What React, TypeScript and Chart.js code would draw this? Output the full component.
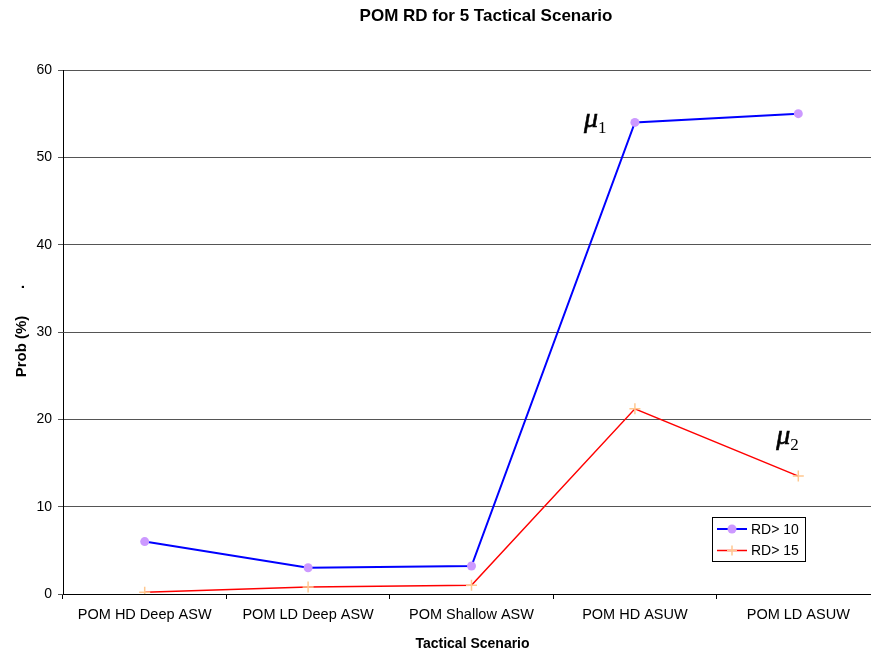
import { useEffect, useRef } from 'react';
import { Chart, registerables } from 'chart.js';

Chart.register(...registerables);

const categories = ['POM HD Deep ASW', 'POM LD Deep ASW', 'POM Shallow ASW', 'POM HD ASUW', 'POM LD ASUW'];
const rd10 = [6, 3, 3.2, 54, 55];
const rd15 = [0.2, 0.8, 1.0, 21.2, 13.5];
const seriesNames = ['RD> 10', 'RD> 15'];
const yMin = 0;
const yMax = 60;
const yStep = 10;
const chartTitle = 'POM RD for 5 Tactical Scenario';
const xTitle = 'Tactical Scenario';
const yTitle = 'Prob (%)';

const SANS = '"Liberation Sans", Arial, sans-serif';
const SERIF = '"Liberation Serif", "Times New Roman", serif';
const BLUE = '#0000FF';
const RED = '#FF0000';
const PURPLE = '#CC99FF';
const ORANGE = '#FFC890';

function drawMu(ctx: CanvasRenderingContext2D, x: number, y: number, sub: string) {
  ctx.save();
  ctx.fillStyle = '#000';
  ctx.strokeStyle = '#000';
  ctx.lineWidth = 0.6;
  ctx.textAlign = 'left';
  ctx.textBaseline = 'alphabetic';
  ctx.font = `italic 28px ${SERIF}`;
  ctx.fillText('\u03bc', x, y);
  ctx.strokeText('\u03bc', x, y);
  const w = ctx.measureText('\u03bc').width;
  ctx.font = `17px ${SERIF}`;
  ctx.fillText(sub, x + w, y + 6);
  ctx.restore();
}

const decorPlugin = {
  id: 'decor',
  afterDraw(chart: any) {
    const ctx: CanvasRenderingContext2D = chart.ctx;
    const area = chart.chartArea;
    const xs = chart.scales.x;
    const ys = chart.scales.y;
    ctx.save();
    ctx.fillStyle = '#000';
    // title
    ctx.font = `bold 17px ${SANS}`;
    ctx.textAlign = 'center';
    ctx.textBaseline = 'alphabetic';
    ctx.fillText(chartTitle, 486, 21);
    // x title
    ctx.font = `bold 14px ${SANS}`;
    ctx.fillText(xTitle, (area.left + area.right) / 2 + 1, 648);
    // y title
    ctx.font = `bold 15px ${SANS}`;
    ctx.save();
    ctx.translate(26, 346.5);
    ctx.rotate(-Math.PI / 2);
    ctx.fillText(yTitle, 0, 0);
    ctx.restore();
    ctx.save();
    ctx.translate(24, 287);
    ctx.rotate(-Math.PI / 2);
    ctx.fillText('.', 0, 0);
    ctx.restore();

    // mu annotations anchored to data points
    const p1x = xs.getPixelForValue(3);
    const p1y = ys.getPixelForValue(rd10[3]);
    drawMu(ctx, p1x - 51, p1y + 5, '1');
    const p2x = xs.getPixelForValue(4);
    const p2y = ys.getPixelForValue(rd15[4]);
    drawMu(ctx, p2x - 22, p2y - 32, '2');

    // legend
    const bx = 712.5, by = 517.5, bw = 93, bh = 44;
    ctx.fillStyle = '#fff';
    ctx.fillRect(bx, by, bw, bh);
    ctx.strokeStyle = '#000';
    ctx.lineWidth = 1;
    ctx.strokeRect(bx, by, bw, bh);
    const rows = [
      { y: 529, color: BLUE, name: seriesNames[0], marker: 'circle' },
      { y: 550.5, color: RED, name: seriesNames[1], marker: 'cross' },
    ];
    rows.forEach((r) => {
      ctx.strokeStyle = r.color;
      ctx.lineWidth = r.marker === 'circle' ? 2 : 1.5;
      ctx.beginPath();
      ctx.moveTo(717, r.y);
      ctx.lineTo(747, r.y);
      ctx.stroke();
      if (r.marker === 'circle') {
        ctx.fillStyle = PURPLE;
        ctx.beginPath();
        ctx.arc(732, r.y, 4.5, 0, Math.PI * 2);
        ctx.fill();
      } else {
        ctx.strokeStyle = ORANGE;
        ctx.lineWidth = 1.5;
        ctx.beginPath();
        ctx.moveTo(727, r.y);
        ctx.lineTo(737, r.y);
        ctx.moveTo(732, r.y - 5);
        ctx.lineTo(732, r.y + 5);
        ctx.stroke();
      }
      ctx.fillStyle = '#000';
      ctx.font = `14px ${SANS}`;
      ctx.textAlign = 'left';
      ctx.textBaseline = 'middle';
      ctx.fillText(r.name, 751, r.y + 1);
    });
    ctx.restore();
  },
};

export default function App() {
  const canvasRef = useRef<HTMLCanvasElement>(null);
  useEffect(() => {
    if (!canvasRef.current) return;
    const chart = new Chart(canvasRef.current, {
      type: 'line',
      data: {
        labels: categories,
        datasets: [
          {
            label: seriesNames[0],
            data: rd10,
            borderColor: BLUE,
            borderWidth: 2,
            backgroundColor: PURPLE,
            pointBackgroundColor: PURPLE,
            pointBorderColor: PURPLE,
            pointBorderWidth: 0,
            pointRadius: 4.5,
            pointStyle: 'circle',
            tension: 0,
            fill: false,
          },
          {
            label: seriesNames[1],
            data: rd15,
            borderColor: RED,
            borderWidth: 1.5,
            backgroundColor: ORANGE,
            pointBackgroundColor: ORANGE,
            pointBorderColor: ORANGE,
            pointBorderWidth: 1.5,
            pointRadius: 5.5,
            pointStyle: 'cross',
            tension: 0,
            fill: false,
          },
        ],
      },
      options: {
        animation: false,
        responsive: true,
        maintainAspectRatio: false,
        layout: { padding: { top: 70, right: 10, left: 0, bottom: 0 } },
        plugins: {
          legend: { display: false },
          title: { display: false },
          tooltip: { enabled: false },
        },
        scales: {
          x: {
            type: 'category',
            offset: true,
            grid: {
              offset: true,
              drawOnChartArea: false,
              drawTicks: true,
              tickLength: 5,
              color: '#000',
            },
            border: { display: true, color: '#000', width: 1 },
            ticks: {
              color: '#000',
              font: { family: SANS, size: 14.5 },
              padding: 7,
              maxRotation: 0,
              autoSkip: false,
            },
            afterFit: (s: any) => {
              s.height = 60;
            },
          },
          y: {
            min: yMin,
            max: yMax,
            grid: {
              color: '#555',
              drawTicks: true,
              tickLength: 5,
            },
            border: { display: true, color: '#000', width: 1 },
            ticks: {
              stepSize: yStep,
              color: '#000',
              font: { family: SANS, size: 14 },
              padding: 6,
            },
            afterFit: (s: any) => {
              s.width = 63;
            },
          },
        },
      },
      plugins: [decorPlugin],
    });
    return () => chart.destroy();
  }, []);

  return (
    <div style={{ position: 'fixed', left: 0, top: 0, width: 871, height: 654, overflow: 'hidden', background: '#fff' }}>
      <div style={{ position: 'relative', width: 890, height: 654 }}>
        <canvas ref={canvasRef} />
      </div>
    </div>
  );
}
